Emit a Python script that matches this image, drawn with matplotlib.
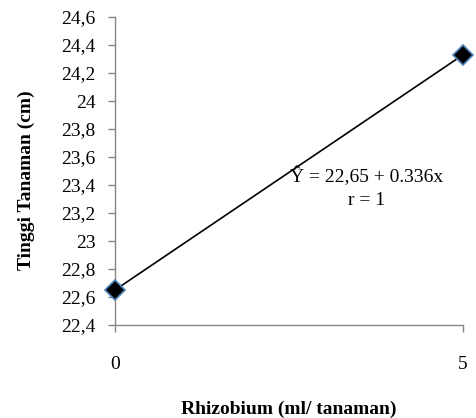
import matplotlib.pyplot as plt

plt.rcParams['font.family'] = ['Liberation Serif', 'DejaVu Serif']
plt.rcParams['font.size'] = 14

# dosis rhizobium dan tinggi tanaman
dosis = [0, 5]
tinggi = [22.65, 24.33]
y_ticks = [22.4, 22.6, 22.8, 23.0, 23.2, 23.4, 23.6, 23.8, 24.0, 24.2, 24.4, 24.6]
y_labels = ['22,4', '22,6', '22,8', '23', '23,2', '23,4', '23,6', '23,8', '24', '24,2', '24,4', '24,6']
x_ticks = [0, 5]

fig = plt.figure(figsize=(4.76, 4.18), dpi=100)
ax = fig.add_axes([115 / 476, 1 - 325 / 418, (463 - 115) / 476, (325 - 17) / 418])

ax.plot(dosis, tinggi, color='black', linewidth=1.2, marker='D', markersize=10,
        markerfacecolor='black', markeredgecolor='#4F81BD', markeredgewidth=1.2, clip_on=False, zorder=3)

ax.set_xlim(0, 5)
ax.set_ylim(22.4, 24.6)
ax.set_yticks(y_ticks)
ax.set_yticklabels(y_labels)
ax.set_xticks(x_ticks)
ax.set_xticklabels([str(v) for v in x_ticks])

for s in ['top', 'right']:
    ax.spines[s].set_visible(False)
for s in ['left', 'bottom']:
    ax.spines[s].set_color('#868686')
    ax.spines[s].set_linewidth(1.0)
ax.tick_params(axis='both', direction='out', length=5, width=1.0, color='#868686', labelcolor='black')
ax.tick_params(axis='y', pad=9)
ax.tick_params(axis='x', pad=17)

# persamaan regresi
ax.text(3.62, 23.46, 'Ŷ = 22,65 + 0.336x', ha='center', va='center', fontsize=14)
ax.text(3.62, 23.29, 'r = 1', ha='center', va='center', fontsize=14)

ax.set_xlabel('Rhizobium (ml/ tanaman)', fontweight='bold', fontsize=14, labelpad=20)
ax.set_ylabel('Tinggi Tanaman (cm)', fontweight='bold', fontsize=14)
ax.yaxis.set_label_coords(-80 / 348, 0.47)

fig.savefig('out.png', dpi=100)
